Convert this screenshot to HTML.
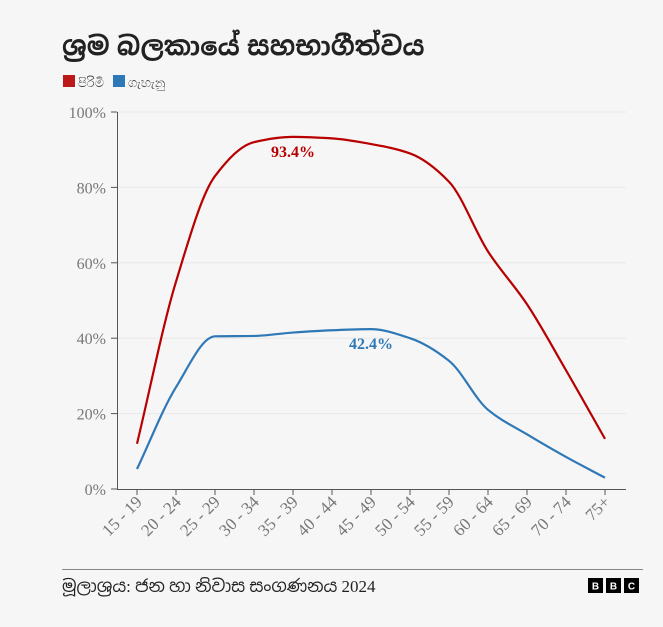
<!DOCTYPE html>
<html><head><meta charset="utf-8"><style>
body{margin:0;background:#f6f6f6;width:663px;height:627px;overflow:hidden;font-family:"Liberation Sans","Noto Sans Sinhala",sans-serif}
</style></head><body>
<svg id="s" width="663" height="627" xmlns="http://www.w3.org/2000/svg" font-family="Liberation Serif, serif" style="display:block">
<text x="62" y="55" font-family="Liberation Sans, Noto Sans Sinhala, sans-serif" font-size="26" font-weight="bold" fill="#222">ශ්‍රම බලකායේ සහභාගීත්වය</text>
<rect x="63" y="75" width="12" height="12" fill="#bb1919"/>
<text x="78" y="87" font-family="Liberation Sans, sans-serif" font-size="13" fill="#444">පිරිමි</text>
<rect x="113" y="75" width="12" height="12" fill="#2f78b7"/>
<text x="128" y="87" font-family="Liberation Sans, sans-serif" font-size="13" fill="#444">ගැහැනු</text>
<g id="grid"></g>
<line x1="117" y1="489.5" x2="626" y2="489.5" stroke="#555"/>
<line x1="117.5" y1="112" x2="117.5" y2="489" stroke="#555"/>
<path id="r" fill="none" stroke="#b80000" stroke-width="2.2"/>
<path id="b" fill="none" stroke="#2f78b7" stroke-width="2.2"/>
<text x="293" y="157" font-size="16" font-weight="bold" fill="#b80000" text-anchor="middle">93.4%</text>
<text x="371" y="349" font-size="16" font-weight="bold" fill="#2f78b7" text-anchor="middle">42.4%</text>
<line x1="62" y1="569.5" x2="643" y2="569.5" stroke="#888"/>
<text x="62" y="592" font-family="Liberation Serif, Noto Sans Sinhala, serif" font-size="17" fill="#222">මූලාශ්‍රය: ජන හා නිවාස සංගණනය 2024</text>
<g font-family="Liberation Sans, sans-serif" font-size="10" font-weight="bold" fill="#fff" text-anchor="middle">
<rect x="588" y="578" width="15" height="15" fill="#000"/><text x="595.5" y="589.5">B</text>
<rect x="606" y="578" width="15" height="15" fill="#000"/><text x="613.5" y="589.5">B</text>
<rect x="624" y="578" width="15" height="15" fill="#000"/><text x="631.5" y="589.5">C</text>
</g>
</svg>
<script>
var ns="http://www.w3.org/2000/svg",g=document.getElementById('grid');
function Y(v){return 489-v*3.77}function X(i){return 137+i*39}
function el(t,a,txt){var e=document.createElementNS(ns,t);for(var k in a)e.setAttribute(k,a[k]);if(txt)e.textContent=txt;g.appendChild(e);return e}
for(var v=0;v<=100;v+=20){var y=Y(v);if(v>0)el('line',{x1:117,x2:626,y1:y,y2:y,stroke:'#e8e8e8'});
el('line',{x1:111,x2:117,y1:y,y2:y,stroke:'#555'});el('text',{x:106,y:y+6,'text-anchor':'end','font-size':16,fill:'#777'},v+'%')}
var labs=['15 - 19','20 - 24','25 - 29','30 - 34','35 - 39','40 - 44','45 - 49','50 - 54','55 - 59','60 - 64','65 - 69','70 - 74','75+'];
labs.forEach(function(l,i){var x=X(i);el('line',{x1:x,x2:x,y1:489,y2:495,stroke:'#555'});
el('text',{x:x+6,y:503,'text-anchor':'end','font-size':17,fill:'#777',transform:'rotate(-45 '+(x+6)+' 503)'},l)});
function path(d){var n=d.length,p=d.map(function(v,i){return[X(i),Y(v)]}),dl=[],m=[];
for(var i=0;i<n-1;i++)dl.push((p[i+1][1]-p[i][1])/39);
m[0]=dl[0];m[n-1]=dl[n-2];
for(i=1;i<n-1;i++)m[i]=(dl[i-1]*dl[i]<=0)?0:2*dl[i-1]*dl[i]/(dl[i-1]+dl[i]);
var s='M'+p[0];
for(i=0;i<n-1;i++){s+='C'+(p[i][0]+13)+','+(p[i][1]+m[i]*13)+' '+(p[i+1][0]-13)+','+(p[i+1][1]-m[i+1]*13)+' '+p[i+1]}return s}
document.getElementById('r').setAttribute('d',path([12,55,83,92,93.4,93,91.5,89,81.5,63,49,31.5,13.3]));
document.getElementById('b').setAttribute('d',path([5.3,27,40.5,40.6,41.5,42.1,42.4,40,34,21,14.5,8.5,3]));
</script>
</body></html>
